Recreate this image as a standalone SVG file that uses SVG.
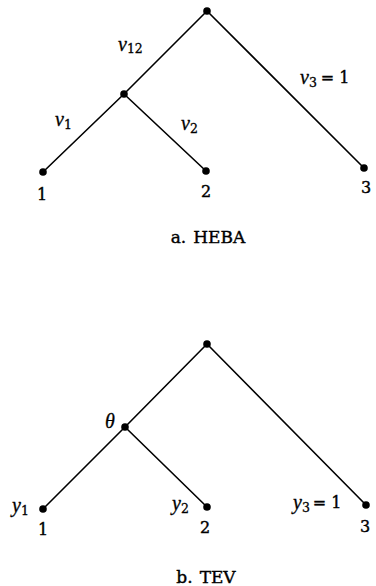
<svg xmlns="http://www.w3.org/2000/svg" width="376" height="586" viewBox="0 0 376 586">
  <style>
    .edge { stroke: #000; stroke-width: 1.6; fill: none; stroke-linecap: round; }
    .dot { fill: #000; }
    .num { font-family: "DejaVu Serif", "Liberation Serif", serif; font-size: 16px; font-style: normal; fill: #000; stroke: #000; stroke-width: 0.4; }
    .var { font-family: "Liberation Serif", serif; font-style: italic; font-size: 20px; fill: #000; stroke: #000; stroke-width: 0.3; }
    .sub { font-family: "DejaVu Serif", "Liberation Serif", serif; font-size: 12.5px; font-style: normal; }
    .cap { font-family: "DejaVu Serif", "Liberation Serif", serif; font-size: 17px; fill: #000; stroke: #000; stroke-width: 0.4; }
  </style>
  <rect width="376" height="586" fill="#fff"/>

  <!-- Tree a: connectors -->
  <g id="edges-a">
    <line class="edge" x1="207" y1="11" x2="124" y2="94"/>
    <line class="edge" x1="207" y1="11" x2="364" y2="168"/>
    <line class="edge" x1="124" y1="94" x2="43" y2="172"/>
    <line class="edge" x1="124" y1="94" x2="206" y2="171"/>
  </g>
  <g id="a-root"><circle class="dot" cx="207" cy="11" r="3.8"/></g>
  <g id="a-mid"><circle class="dot" cx="124" cy="94" r="3.8"/></g>
  <g id="a-leaf1"><circle class="dot" cx="43" cy="172" r="3.8"/><text class="num" x="42" y="200" text-anchor="middle">1</text></g>
  <g id="a-leaf2"><circle class="dot" cx="206" cy="171" r="3.8"/><text class="num" x="206" y="197" text-anchor="middle">2</text></g>
  <g id="a-leaf3"><circle class="dot" cx="364" cy="168" r="3.8"/><text class="num" x="366" y="193" text-anchor="middle">3</text></g>
  <g id="a-labels">
    <text class="var" x="118" y="51">v<tspan class="sub" dy="2">12</tspan></text>
    <text class="var" x="55" y="126">v<tspan class="sub" dy="3">1</tspan></text>
    <text class="var" x="181" y="130">v<tspan class="sub" dy="3">2</tspan></text>
    <text class="var" x="300" y="84">v<tspan class="sub" dy="3">3</tspan><tspan class="num" dy="-4" dx="4">= 1</tspan></text>
  </g>
  <text class="cap" x="208" y="243" text-anchor="middle">a.<tspan dx="7">HEBA</tspan></text>

  <!-- Tree b: connectors -->
  <g id="edges-b">
    <line class="edge" x1="207" y1="344" x2="125" y2="427"/>
    <line class="edge" x1="207" y1="344" x2="366" y2="505"/>
    <line class="edge" x1="125" y1="427" x2="43" y2="509"/>
    <line class="edge" x1="125" y1="427" x2="207" y2="507"/>
  </g>
  <g id="b-root"><circle class="dot" cx="207" cy="344" r="3.8"/></g>
  <g id="b-mid"><circle class="dot" cx="125" cy="427" r="3.8"/><text class="var" x="105" y="428">θ</text></g>
  <g id="b-leaf1"><circle class="dot" cx="43" cy="509" r="3.8"/><text class="num" x="43" y="535" text-anchor="middle">1</text><text class="var" x="12" y="512">y<tspan class="sub" dy="3">1</tspan></text></g>
  <g id="b-leaf2"><circle class="dot" cx="207" cy="507" r="3.8"/><text class="num" x="205" y="533" text-anchor="middle">2</text><text class="var" x="172" y="510">y<tspan class="sub" dy="3">2</tspan></text></g>
  <g id="b-leaf3"><circle class="dot" cx="366" cy="505" r="3.8"/><text class="num" x="365" y="532" text-anchor="middle">3</text><text class="var" x="293" y="509">y<tspan class="sub" dy="3">3</tspan><tspan class="num" dy="-4" dx="3">= 1</tspan></text></g>
  <text class="cap" x="206" y="583" text-anchor="middle">b.<tspan dx="7">TEV</tspan></text>
</svg>
